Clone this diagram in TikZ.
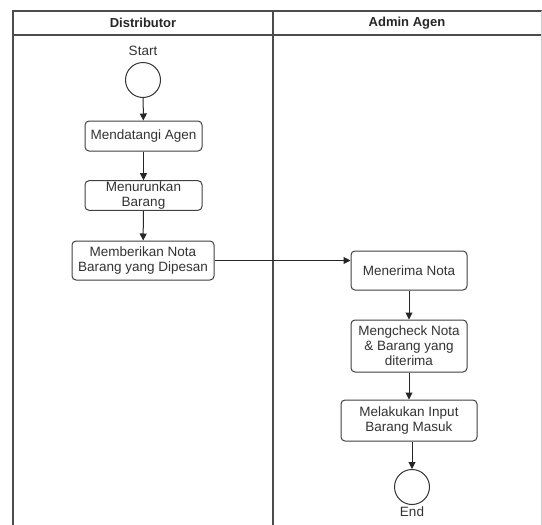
\documentclass[tikz,border=0pt]{standalone}
\usepackage{fontspec}
\setmainfont{Liberation Sans}
\usetikzlibrary{arrows.meta}
\begin{document}
\begin{tikzpicture}[x=1pt,y=-1pt,
  lane/.style={draw=black!70,line width=1.4pt},
  act/.style={draw=black!75,line width=1pt,rounded corners=4pt,fill=white,
    align=center,inner sep=1pt,text=black!80,
    font=\fontsize{13.5}{15}\selectfont},
  term/.style={draw=black!80,line width=1pt,circle,minimum size=35pt,inner sep=0pt},
  lbl/.style={text=black!80,font=\fontsize{13.5}{15}\selectfont,inner sep=0pt},
  head/.style={text=black!85,font=\fontsize{13}{15}\selectfont\bfseries,inner sep=0pt},
  flow/.style={draw=black!85,line width=1pt,-{Triangle[length=7pt,width=7pt]}}]
\useasboundingbox (0,0) rectangle (542,525);
% swimlane frame
\draw[lane] (542,11) -- (13,11) -- (13,525);
\draw[lane] (13,35) -- (542,35);
\draw[lane] (273,11) -- (273,525);
\draw[draw=black!20,line width=0.8pt] (541,11) -- (541,525);
\node[head] (h1) at (143,23) {Distributor};
\node[head] (h2) at (407,23) {Admin Agen};
% Distributor lane
\node[lbl] (startlbl) at (143,51) {Start};
\node[term] (start) at (143,80) {};
\node[act,minimum width=117pt,minimum height=30pt] (b1) at (143.5,136) {Mendatangi Agen};
\node[act,minimum width=117pt,minimum height=29pt] (b2) at (143.5,195.5) {Menurunkan\\Barang};
\node[act,minimum width=142pt,minimum height=39pt] (b3) at (143,260.5) {Memberikan Nota\\Barang yang Dipesan};
% Admin Agen lane
\node[act,minimum width=116pt,minimum height=39pt] (r1) at (409,270.5) {Menerima Nota};
\node[act,minimum width=116pt,minimum height=52pt] (r2) at (409,346) {Mengcheck Nota\\\& Barang yang\\diterima};
\node[act,minimum width=136pt,minimum height=41pt] (r3) at (409,420.5) {Melakukan Input\\Barang Masuk};
\node[term] (end) at (412,487) {};
\node[lbl] (endlbl) at (412,511.5) {End};
% flows
\draw[flow] (start) -- (b1);
\draw[flow] (b1) -- (b2);
\draw[flow] (b2) -- (b3);
\draw[flow] (b3.east) -- (b3.east -| r1.west);
\draw[flow] (r1) -- (r2);
\draw[flow] (r2) -- (r3);
\draw[flow] (r3.south -| end) -- (end);
\end{tikzpicture}
\end{document}
